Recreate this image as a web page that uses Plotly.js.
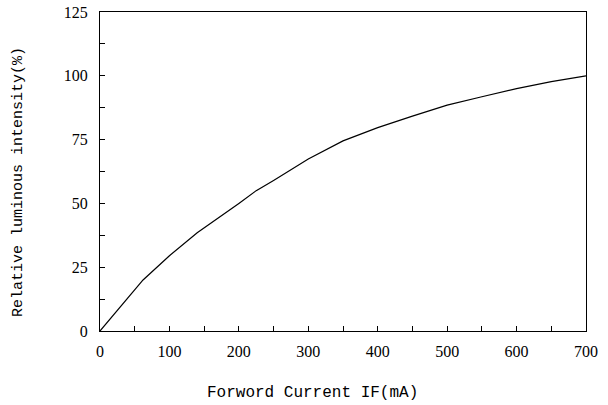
<!DOCTYPE html>
<html>
<head>
<meta charset="utf-8">
<script src="https://cdn.plot.ly/plotly-3.0.1.min.js"></script>
<style>html,body{margin:0;padding:0;background:#fff;}#chart{width:608px;height:405px;}</style>
</head>
<body>
<div id="chart"></div>
<script>
const currentMA = [0, 62, 100, 140, 200, 225, 250, 300, 350, 400, 450, 500, 550, 600, 650, 700];
const relIntensity = [0, 20, 29.5, 38.5, 50, 55, 59, 67.4, 74.5, 79.7, 84.2, 88.5, 91.8, 95.0, 97.7, 100];
const xTitle = 'Forword Current IF(mA)';
const yTitle = 'Relative luminous intensity(%)';

const tickFont = {family: 'Liberation Serif', size: 16, color: '#000'};
const titleFont = {family: "'Liberation Mono', 'DejaVu Sans Mono', monospace", size: 16, color: '#000'};

const trace = {
  x: currentMA, y: relIntensity, type: 'scatter', mode: 'lines',
  line: {color: '#000', width: 1.2, shape: 'linear'}, hoverinfo: 'skip'
};

const layout = {
  width: 608, height: 405,
  margin: {l: 100, r: 22, t: 12, b: 74},
  paper_bgcolor: '#fff', plot_bgcolor: '#fff',
  showlegend: false,
  xaxis: {
    range: [0, 700], dtick: 100, tick0: 0, showgrid: false, zeroline: false,
    showline: true, linecolor: '#000', linewidth: 1, mirror: true,
    ticks: 'inside', ticklen: 5, tickcolor: '#000', tickwidth: 1,
    minor: {dtick: 50, ticks: 'inside', ticklen: 5, tickcolor: '#000', showgrid: false},
    tickfont: tickFont, ticklabelstandoff: 6, fixedrange: true
  },
  yaxis: {
    range: [0, 125], dtick: 25, tick0: 0, showgrid: false, zeroline: false,
    showline: true, linecolor: '#000', linewidth: 1, mirror: true,
    ticks: 'inside', ticklen: 5, tickcolor: '#000', tickwidth: 1,
    minor: {dtick: 12.5, ticks: 'inside', ticklen: 5, tickcolor: '#000', showgrid: false},
    tickfont: tickFont, ticklabelstandoff: 8, fixedrange: true
  },
  annotations: [
    {text: xTitle, xref: 'paper', yref: 'paper', x: (312 - 100) / 486, y: -(393 - 331) / 319,
     xanchor: 'center', yanchor: 'middle', showarrow: false, font: titleFont},
    {text: yTitle, xref: 'paper', yref: 'paper', x: (18.5 - 100) / 486, y: (331 - 182.5) / 319,
     xanchor: 'center', yanchor: 'middle', showarrow: false, textangle: -90,
     font: {family: "'Liberation Mono', 'DejaVu Sans Mono', monospace", size: 15, color: '#000'}}
  ]
};

Plotly.newPlot('chart', [trace], layout, {staticPlot: true, displayModeBar: false});
</script>
</body>
</html>
